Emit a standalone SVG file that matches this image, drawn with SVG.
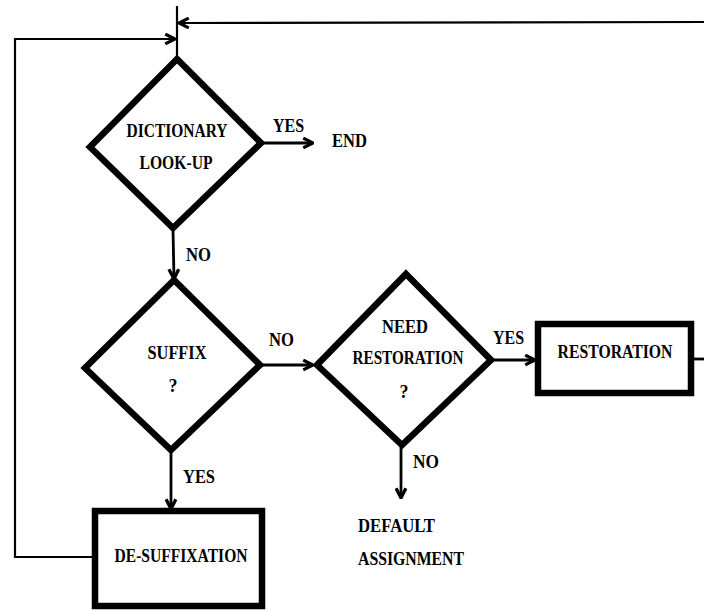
<svg xmlns="http://www.w3.org/2000/svg" width="704" height="610" viewBox="0 0 704 610">
<style>
.shape{fill:none;stroke:#000;stroke-width:6.5;stroke-linejoin:miter}
.conn{fill:none;stroke:#000;stroke-width:2.8}
.thin{fill:none;stroke:#000;stroke-width:2.2}
text{font-family:"Liberation Serif","Times New Roman",serif;font-weight:bold;font-size:18px;fill:#000}
</style>
<defs>
<marker id="arr" viewBox="0 0 12 12" refX="11" refY="6" markerWidth="13" markerHeight="13" markerUnits="userSpaceOnUse" orient="auto">
<path d="M2,1.5 L11,6 L2,10.5" fill="none" stroke="#000" stroke-width="3"/>
</marker>
</defs>
<rect width="704" height="610" fill="#fff"/>
<g id="connectors">
<line class="thin" x1="177" y1="6" x2="177" y2="58"/>
<line class="thin" x1="704" y1="22" x2="179" y2="23" marker-end="url(#arr)"/>
<polyline class="thin" points="93,557 15,557 15,39 175,39" marker-end="url(#arr)"/>
<line class="conn" x1="262" y1="143" x2="313" y2="143" marker-end="url(#arr)"/>
<line class="conn" x1="173" y1="229" x2="174" y2="279" marker-end="url(#arr)"/>
<line class="conn" x1="262" y1="365" x2="313" y2="365" marker-end="url(#arr)"/>
<line class="conn" x1="171" y1="451" x2="171" y2="509" marker-end="url(#arr)"/>
<line class="conn" x1="490" y1="360" x2="535" y2="360" marker-end="url(#arr)"/>
<line class="conn" x1="401" y1="446" x2="401" y2="498" marker-end="url(#arr)"/>
<line class="conn" x1="692" y1="359" x2="704" y2="359"/>
</g>
<g id="dictionary">
<polygon class="shape" points="177,59 261,143 173,228 90,147"/>
<text x="177" y="137" text-anchor="middle" textLength="101" lengthAdjust="spacingAndGlyphs">DICTIONARY</text>
<text x="176" y="169" text-anchor="middle" textLength="73" lengthAdjust="spacingAndGlyphs">LOOK-UP</text>
</g>
<g id="end">
<text x="332" y="147" textLength="35" lengthAdjust="spacingAndGlyphs">END</text>
</g>
<g id="suffix">
<polygon class="shape" points="174,280 260,365 171,450 85,368"/>
<text x="177" y="359" text-anchor="middle" textLength="59" lengthAdjust="spacingAndGlyphs">SUFFIX</text>
<text x="173" y="392" text-anchor="middle">?</text>
</g>
<g id="need-restoration">
<polygon class="shape" points="406,274 491,360 402,445 317,365"/>
<text x="405" y="333" text-anchor="middle" textLength="46" lengthAdjust="spacingAndGlyphs">NEED</text>
<text x="408" y="364" text-anchor="middle" textLength="111" lengthAdjust="spacingAndGlyphs">RESTORATION</text>
<text x="404" y="398" text-anchor="middle">?</text>
</g>
<g id="restoration">
<rect class="shape" x="538" y="324" width="153" height="69"/>
<text x="615" y="358" text-anchor="middle" textLength="115" lengthAdjust="spacingAndGlyphs">RESTORATION</text>
</g>
<g id="de-suffixation">
<rect class="shape" x="95" y="511" width="167" height="95"/>
<text x="181" y="562" text-anchor="middle" textLength="133" lengthAdjust="spacingAndGlyphs">DE-SUFFIXATION</text>
</g>
<g id="default-assignment">
<text x="358" y="532" textLength="77" lengthAdjust="spacingAndGlyphs">DEFAULT</text>
<text x="358" y="565" textLength="106" lengthAdjust="spacingAndGlyphs">ASSIGNMENT</text>
</g>
<g id="labels">
<text x="273" y="132" textLength="31" lengthAdjust="spacingAndGlyphs">YES</text>
<text x="186" y="261" textLength="25" lengthAdjust="spacingAndGlyphs">NO</text>
<text x="269" y="346" textLength="25" lengthAdjust="spacingAndGlyphs">NO</text>
<text x="493" y="344" textLength="31" lengthAdjust="spacingAndGlyphs">YES</text>
<text x="413" y="468" textLength="26" lengthAdjust="spacingAndGlyphs">NO</text>
<text x="183" y="483" textLength="32" lengthAdjust="spacingAndGlyphs">YES</text>
</g>
</svg>
